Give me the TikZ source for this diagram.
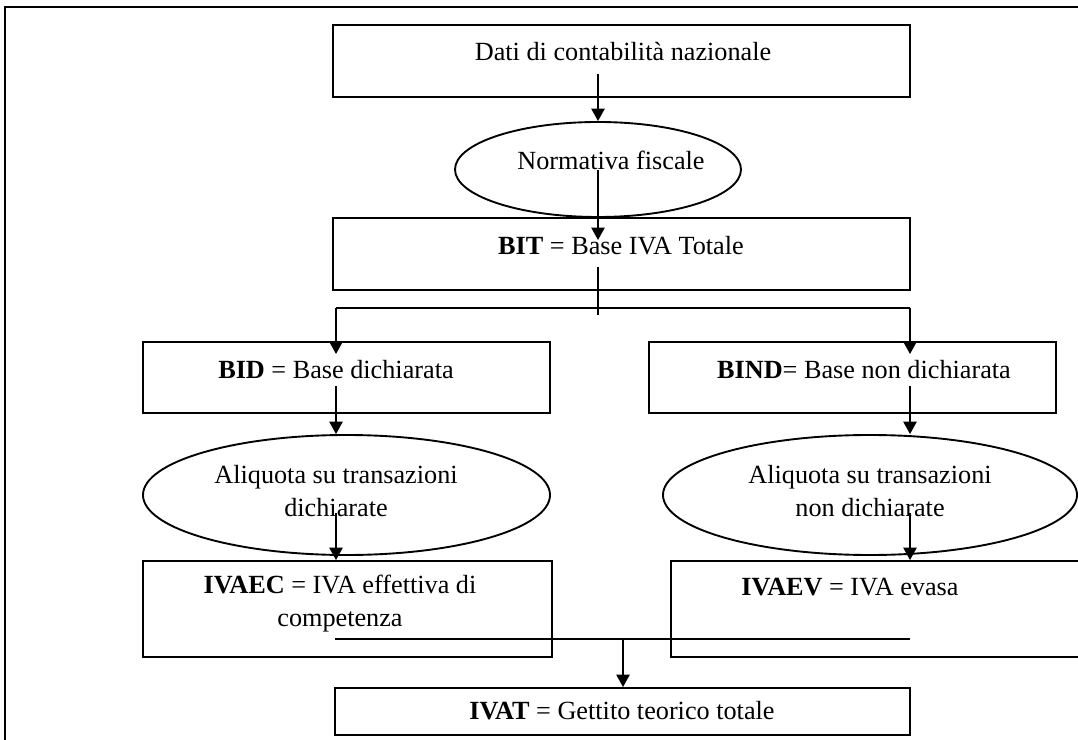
\documentclass[tikz,border=0pt]{standalone}
\usepackage{fontspec}
\setmainfont{Liberation Serif}
\usetikzlibrary{shapes.geometric, arrows.meta}

\begin{document}
\begin{tikzpicture}[x=0.45pt, y=-0.45pt,
    box/.style={draw, rectangle, line width=0.85pt, inner sep=0pt},
    oval/.style={draw, ellipse, line width=0.85pt, inner sep=0pt},
    lbl/.style={align=center, inner sep=0pt, font=\fontsize{11.8}{14.8}\selectfont},
    conn/.style={line width=0.75pt},
    arr/.style={conn, -{Triangle[length=5.6pt, width=6pt]}}]
    \clip (0,0) rectangle (1078,740);

    % Frame
    \draw[line width=0.85pt] (1100,7) -- (5,7) -- (5,760);

    % Nodes
    \node[box, minimum width=259.65pt, minimum height=32.4pt] (dati) at (621.5,61) {};
    \node[oval, minimum width=128.7pt, minimum height=42.75pt] (norma) at (598,169.5) {};
    \node[box, minimum width=259.65pt, minimum height=32.4pt] (bit) at (621.5,254) {};
    \node[box, minimum width=183.15pt, minimum height=31.95pt] (bid) at (346.5,377.5) {};
    \node[box, minimum width=183.15pt, minimum height=31.95pt] (bind) at (852.5,377.5) {};
    \node[oval, minimum width=183.15pt, minimum height=54pt] (aliqd) at (346.5,495) {};
    \node[oval, minimum width=186.3pt, minimum height=54pt] (aliqn) at (870,495) {};
    \node[box, minimum width=184.05pt, minimum height=43.2pt] (ivaec) at (347.5,609) {};
    \node[box, minimum width=193.05pt, minimum height=43.2pt] (ivaev) at (885.5,609) {};
    \node[box, minimum width=258.75pt, minimum height=21.15pt] (ivat) at (622.5,711.5) {};

    % Labels
    \node[lbl] (dati-t) at (623,52) {Dati di contabilità nazionale};
    \node[lbl] (norma-t) at (611,160) {Normativa fiscale};
    \node[lbl] (bit-t) at (621,246) {\textbf{BIT} = Base IVA Totale};
    \node[lbl] (bid-t) at (336,370) {\textbf{BID} = Base dichiarata};
    \node[lbl] (bind-t) at (864,370) {\textbf{BIND}= Base non dichiarata};
    \node[lbl] (aliqd-t) at (336,491) {Aliquota su transazioni\\dichiarate};
    \node[lbl] (aliqn-t) at (870,491) {Aliquota su transazioni\\non dichiarate};
    \node[lbl] (ivaec-t) at (340,604) {\textbf{IVAEC} = IVA effettiva di\\competenza};
    \node[lbl] (ivaev-t) at (850,587) {\textbf{IVAEV} = IVA evasa};
    \node[lbl] (ivat-t) at (622,711) {\textbf{IVAT} = Gettito teorico totale};

    % Edge ends
    \coordinate (d1) at (598,74);
    \coordinate (n1) at (598,170);
    \coordinate (n2) at (598,240);
    \coordinate (b1) at (598,267);
    \coordinate (b2) at (598,315);
    \coordinate (spl) at (336,308);
    \coordinate (spr) at (910,308);
    \coordinate (bidin) at (336,354);
    \coordinate (bindin) at (910,354);
    \coordinate (bd1) at (336,386);
    \coordinate (bn1) at (910,386);
    \coordinate (ad1) at (336,513);
    \coordinate (an1) at (910,513);
    \coordinate (jl) at (335,639);
    \coordinate (jr) at (910,639);
    \coordinate (jm) at (623,639);

    % Edges
    \draw[arr] (d1) -- (norma.north);
    \draw[arr] (n1) -- (n2);
    \draw[conn] (b1) -- (b2);
    \draw[conn] (spl) -- (spr);
    \draw[arr] (spl) -- (bidin);
    \draw[arr] (spr) -- (bindin);
    \draw[arr] (bd1) -- (bd1 |- aliqd.north);
    \draw[arr] (bn1) -- (bn1 |- aliqn.north);
    \draw[arr] (ad1) -- (ad1 |- ivaec.north);
    \draw[arr] (an1) -- (an1 |- ivaev.north);
    \draw[conn] (jl) -- (jr);
    \draw[arr] (jm) -- (jm |- ivat.north);
\end{tikzpicture}
\end{document}
